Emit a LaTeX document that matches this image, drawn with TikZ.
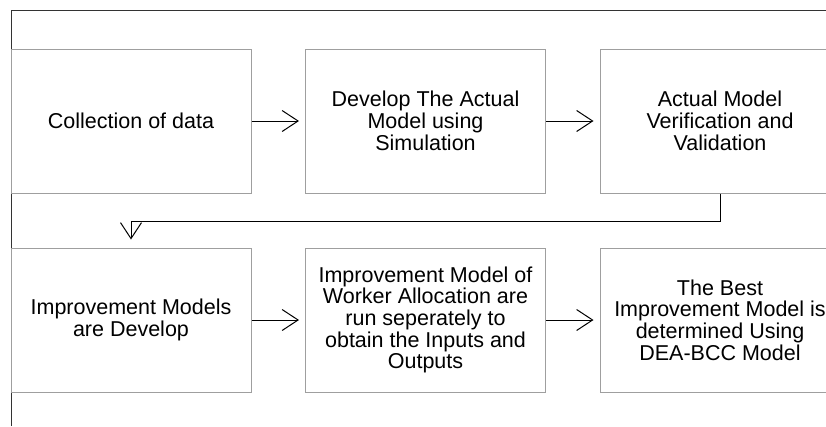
\documentclass[tikz,border=0pt]{standalone}
\usepackage{fontspec}
\setmainfont{Liberation Sans}
\usetikzlibrary{arrows.meta, positioning}
\tikzset{
    stage/.style={rectangle, draw=gray!75, line width=1pt, minimum width=240pt, minimum height=144pt, inner sep=0pt, align=center, font=\fontsize{21.5}{21.7}\selectfont},
    arrow/.style={-{Straight Barb[length=16pt, width=21pt]}, line width=1pt, shorten >=6pt},
    frame/.style={draw=black!80, line width=1pt}
}

\begin{document}
\begin{tikzpicture}[x=1pt, y=-1pt]
    \useasboundingbox (0,0) rectangle (826,426);

    % page frame
    \draw[frame] (11,426) -- (11,10) -- (826,10);

    % first row
    \node[stage] (data) at (131,121) {Collection of data};
    \node[stage] (sim) at (425.5,121) {Develop The Actual\\Model using\\Simulation};
    \node[stage] (valid) at (720,121) {Actual Model\\Verification and\\Validation};

    % second row
    \node[stage] (impr) at (131,320) {Improvement Models\\are Develop};
    \node[stage] (run) at (425.5,320) {Improvement Model of\\Worker Allocation are\\run seperately to\\obtain the Inputs and\\Outputs};
    \node[stage] (best) at (720,320) {The Best\\Improvement Model is\\determined Using\\DEA-BCC Model};

    \draw[arrow] (data) -- (sim);
    \draw[arrow] (sim) -- (valid);
    \draw[arrow] (impr) -- (run);
    \draw[arrow] (run) -- (best);

    % back to the start of the second row
    \coordinate (turn) at (720,221);
    \draw[arrow, shorten >=8pt] (valid.south) -- (turn) -| (impr.north);
\end{tikzpicture}
\end{document}
